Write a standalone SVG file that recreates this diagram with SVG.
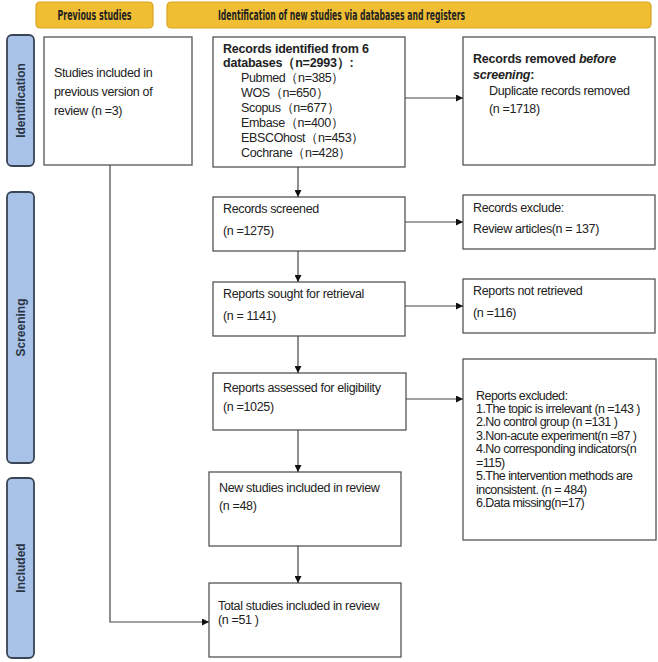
<svg xmlns="http://www.w3.org/2000/svg" width="658" height="662" viewBox="0 0 658 662">
<defs>
<style>
.hdr{fill:#F0BE32;stroke:#D9A521;stroke-width:1.2}
.side{fill:#A9C3E8;stroke:#3A4555;stroke-width:1.8}
.box{fill:#fff;stroke:#555;stroke-width:1.3}
.t{font-family:"Liberation Sans",Arial,sans-serif;font-size:12.5px;fill:#222;letter-spacing:-0.35px}
.b{font-weight:bold;letter-spacing:-0.2px}
.x{letter-spacing:-0.55px}
.ht{font-family:"Liberation Sans Narrow","DejaVu Sans Condensed","Liberation Sans",sans-serif;font-size:14px;font-weight:bold;fill:#222}
.st{font-family:"Liberation Sans",Arial,sans-serif;font-size:12px;font-weight:bold;fill:#2A3444}
.c{fill:none;stroke:#444;stroke-width:1.2}
</style>
<marker id="arr" viewBox="0 0 10 10" refX="10" refY="5" markerWidth="7" markerHeight="7" markerUnits="userSpaceOnUse" orient="auto">
<path d="M0,0 L10,5 L0,10 z" fill="#111"/>
</marker>
</defs>
<rect width="658" height="662" fill="#fff"/>

<g id="hdr-previous">
<rect class="hdr" x="36" y="2" width="117" height="26" rx="4"/>
<text class="ht" x="94.5" y="20" text-anchor="middle" textLength="74" lengthAdjust="spacingAndGlyphs">Previous studies</text>
</g>
<g id="hdr-new">
<rect class="hdr" x="167" y="2" width="484" height="26" rx="4"/>
<text class="ht" x="341.5" y="20" text-anchor="middle" textLength="247" lengthAdjust="spacingAndGlyphs">Identification of new studies via databases and registers</text>
</g>

<g id="side-identification">
<rect class="side" x="7" y="35" width="27" height="131" rx="5"/>
<text class="st" transform="translate(24.5,100.5) rotate(-90)" text-anchor="middle">Identification</text>
</g>
<g id="side-screening">
<rect class="side" x="7" y="192" width="27" height="271" rx="5"/>
<text class="st" transform="translate(24.5,327.5) rotate(-90)" text-anchor="middle">Screening</text>
</g>
<g id="side-included">
<rect class="side" x="7" y="478" width="27" height="180" rx="5"/>
<text class="st" transform="translate(24.5,568) rotate(-90)" text-anchor="middle">Included</text>
</g>

<g id="previous">
<rect class="box" x="44" y="37" width="148" height="128"/>
<text class="t" x="54" y="77">Studies included in</text>
<text class="t" x="54" y="96">previous version of</text>
<text class="t" x="54" y="115">review (n =3)</text>
</g>

<g id="identified">
<rect class="box" x="213" y="37" width="192" height="130"/>
<text class="t b" x="223" y="53">Records identified from 6</text>
<text class="t b" x="223" y="67">databases（n=2993）:</text>
<text class="t" x="241" y="82">Pubmed（n=385）</text>
<text class="t" x="241" y="97">WOS（n=650）</text>
<text class="t" x="241" y="112">Scopus（n=677）</text>
<text class="t" x="241" y="127">Embase（n=400）</text>
<text class="t" x="241" y="142">EBSCOhost（n=453）</text>
<text class="t" x="241" y="157">Cochrane（n=428）</text>
</g>

<g id="removed">
<rect class="box" x="463" y="37" width="192" height="128"/>
<text class="t b" x="473" y="63">Records removed <tspan font-style="italic">before</tspan></text>
<text class="t b" x="473" y="79"><tspan font-style="italic">screening</tspan>:</text>
<text class="t" x="489" y="95">Duplicate records removed</text>
<text class="t" x="489" y="113">(n =1718)</text>
</g>

<g id="screened">
<rect class="box" x="213" y="197" width="192" height="54"/>
<text class="t" x="223" y="213">Records screened</text>
<text class="t" x="223" y="235">(n =1275)</text>
</g>
<g id="excluded-records">
<rect class="box" x="463" y="195" width="192" height="54"/>
<text class="t" x="473" y="212">Records exclude:</text>
<text class="t" x="473" y="233">Review articles(n = 137)</text>
</g>

<g id="sought">
<rect class="box" x="213" y="282" width="192" height="54"/>
<text class="t" x="223" y="298">Reports sought for retrieval</text>
<text class="t" x="223" y="320">(n = 1141)</text>
</g>
<g id="not-retrieved">
<rect class="box" x="463" y="279" width="192" height="54"/>
<text class="t" x="473" y="295">Reports not retrieved</text>
<text class="t" x="473" y="317">(n =116)</text>
</g>

<g id="assessed">
<rect class="box" x="213" y="373" width="193" height="57"/>
<text class="t" x="223" y="392">Reports assessed for eligibility</text>
<text class="t" x="223" y="411">(n =1025)</text>
</g>
<g id="reports-excluded">
<rect class="box" x="463" y="359" width="193" height="181"/>
<text class="t x" x="476" y="400">Reports excluded:</text>
<text class="t x" x="476" y="413">1.The topic is irrelevant (n =143 )</text>
<text class="t x" x="476" y="426">2.No control group (n =131 )</text>
<text class="t x" x="476" y="440">3.Non-acute experiment(n =87 )</text>
<text class="t x" x="476" y="453">4.No corresponding indicators(n</text>
<text class="t x" x="476" y="467">=115)</text>
<text class="t x" x="476" y="480">5.The intervention methods are</text>
<text class="t x" x="476" y="494">inconsistent. (n = 484)</text>
<text class="t x" x="476" y="507">6.Data missing(n=17)</text>
</g>

<g id="new-included">
<rect class="box" x="209" y="472" width="192" height="74"/>
<text class="t" x="219" y="492">New studies included in review</text>
<text class="t" x="219" y="510">(n =48)</text>
</g>
<g id="total">
<rect class="box" x="209" y="583" width="192" height="74"/>
<text class="t" x="218" y="610">Total studies included in review</text>
<text class="t" x="218" y="624">(n =51 )</text>
</g>

<g id="connectors">
<line class="c" x1="298" y1="167" x2="298" y2="197" marker-end="url(#arr)"/>
<line class="c" x1="298" y1="251" x2="298" y2="282" marker-end="url(#arr)"/>
<line class="c" x1="298" y1="336" x2="298" y2="373" marker-end="url(#arr)"/>
<line class="c" x1="298" y1="430" x2="298" y2="472" marker-end="url(#arr)"/>
<line class="c" x1="298" y1="546" x2="298" y2="583" marker-end="url(#arr)"/>
<line class="c" x1="405" y1="98" x2="463" y2="98" marker-end="url(#arr)"/>
<line class="c" x1="405" y1="222" x2="463" y2="222" marker-end="url(#arr)"/>
<line class="c" x1="405" y1="306" x2="463" y2="306" marker-end="url(#arr)"/>
<line class="c" x1="406" y1="399" x2="463" y2="399" marker-end="url(#arr)"/>
<polyline class="c" points="110,165 110,622 209,622" marker-end="url(#arr)"/>
</g>
</svg>
